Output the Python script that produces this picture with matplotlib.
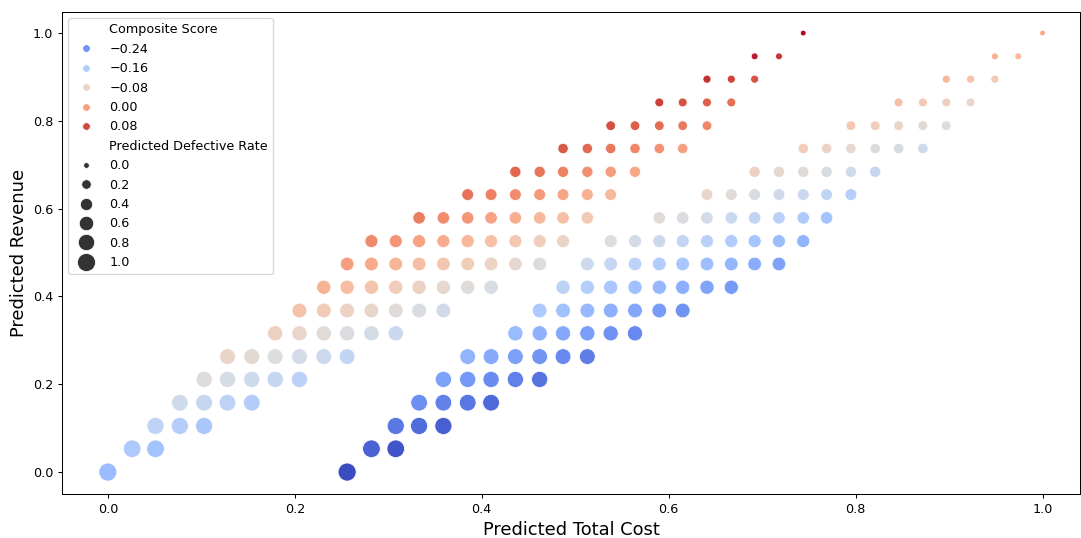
import matplotlib
matplotlib.use("Agg")
import matplotlib.pyplot as plt
import seaborn as sns
import pandas as pd

# one entry per revenue level (rows of the grid, bottom to top)
revenue = [0.000, 0.053, 0.105, 0.158, 0.211, 0.263, 0.316, 0.368, 0.421, 0.474,
           0.526, 0.579, 0.632, 0.684, 0.737, 0.789, 0.842, 0.895, 0.947, 1.000]
defect_rate = [1.00, 0.95, 0.89, 0.84, 0.79, 0.74, 0.68, 0.63, 0.58, 0.53,
               0.47, 0.42, 0.37, 0.32, 0.26, 0.21, 0.16, 0.11, 0.05, 0.00]

# predicted total cost of the points in each row
cost = [
    [0.000, 0.256],
    [0.026, 0.051, 0.282, 0.308],
    [0.051, 0.077, 0.103, 0.308, 0.333, 0.359],
    [0.077, 0.103, 0.128, 0.154, 0.333, 0.359, 0.385, 0.410],
    [0.103, 0.128, 0.154, 0.179, 0.205, 0.359, 0.385, 0.410, 0.436, 0.462],
    [0.128, 0.154, 0.179, 0.205, 0.231, 0.256, 0.385, 0.410, 0.436, 0.462, 0.487, 0.513],
    [0.179, 0.205, 0.231, 0.256, 0.282, 0.308, 0.436, 0.462, 0.487, 0.513, 0.538, 0.564],
    [0.205, 0.231, 0.256, 0.282, 0.308, 0.333, 0.359,
     0.462, 0.487, 0.513, 0.538, 0.564, 0.590, 0.615],
    [0.231, 0.256, 0.282, 0.308, 0.333, 0.359, 0.385, 0.410,
     0.487, 0.513, 0.538, 0.564, 0.590, 0.615, 0.641, 0.667],
    [0.256, 0.282, 0.308, 0.333, 0.359, 0.385, 0.410, 0.436, 0.462,
     0.513, 0.538, 0.564, 0.590, 0.615, 0.641, 0.667, 0.692, 0.718],
    [0.282, 0.308, 0.333, 0.359, 0.385, 0.410, 0.436, 0.462, 0.487,
     0.538, 0.564, 0.590, 0.615, 0.641, 0.667, 0.692, 0.718, 0.744],
    [0.333, 0.359, 0.385, 0.410, 0.436, 0.462, 0.487, 0.513,
     0.590, 0.615, 0.641, 0.667, 0.692, 0.718, 0.744, 0.769],
    [0.385, 0.410, 0.436, 0.462, 0.487, 0.513, 0.538,
     0.641, 0.667, 0.692, 0.718, 0.744, 0.769, 0.795],
    [0.436, 0.462, 0.487, 0.513, 0.538, 0.564, 0.692, 0.718, 0.744, 0.769, 0.795, 0.821],
    [0.487, 0.513, 0.538, 0.564, 0.590, 0.615, 0.744, 0.769, 0.795, 0.821, 0.846, 0.872],
    [0.538, 0.564, 0.590, 0.615, 0.641, 0.795, 0.821, 0.846, 0.872, 0.897],
    [0.590, 0.615, 0.641, 0.667, 0.846, 0.872, 0.897, 0.923],
    [0.641, 0.667, 0.692, 0.897, 0.923, 0.949],
    [0.692, 0.718, 0.949, 0.974],
    [0.744, 1.000],
]

# composite score of the same points
score = [
    [-0.189, -0.314],
    [-0.166, -0.179, -0.291, -0.304],
    [-0.144, -0.156, -0.169, -0.269, -0.281, -0.294],
    [-0.121, -0.134, -0.146, -0.159, -0.246, -0.259, -0.271, -0.284],
    [-0.099, -0.111, -0.124, -0.136, -0.149, -0.224, -0.236, -0.249, -0.261, -0.274],
    [-0.076, -0.089, -0.101, -0.114, -0.126, -0.139, -0.201, -0.214, -0.226, -0.239, -0.251, -0.264],
    [-0.066, -0.078, -0.091, -0.103, -0.116, -0.128, -0.191, -0.203, -0.216, -0.228, -0.241, -0.253],
    [-0.043, -0.056, -0.068, -0.081, -0.093, -0.106, -0.118,
     -0.168, -0.181, -0.193, -0.206, -0.218, -0.231, -0.243],
    [-0.021, -0.033, -0.046, -0.058, -0.071, -0.083, -0.096, -0.108,
     -0.146, -0.158, -0.171, -0.183, -0.196, -0.208, -0.221, -0.233],
    [0.002, -0.011, -0.023, -0.036, -0.048, -0.061, -0.073, -0.086, -0.098,
     -0.123, -0.136, -0.148, -0.161, -0.173, -0.186, -0.198, -0.211, -0.223],
    [0.024, 0.012, -0.001, -0.013, -0.026, -0.038, -0.051, -0.063, -0.076,
     -0.101, -0.113, -0.126, -0.138, -0.151, -0.163, -0.176, -0.188, -0.201],
    [0.035, 0.022, 0.010, -0.003, -0.015, -0.028, -0.040, -0.053,
     -0.090, -0.103, -0.115, -0.128, -0.140, -0.153, -0.165, -0.178],
    [0.045, 0.032, 0.020, 0.007, -0.005, -0.018, -0.030,
     -0.080, -0.093, -0.105, -0.118, -0.130, -0.143, -0.155],
    [0.055, 0.042, 0.030, 0.017, 0.005, -0.008, -0.070, -0.083, -0.095, -0.108, -0.120, -0.133],
    [0.065, 0.052, 0.040, 0.027, 0.015, 0.002, -0.060, -0.073, -0.085, -0.098, -0.110, -0.123],
    [0.075, 0.063, 0.050, 0.038, 0.025, -0.050, -0.063, -0.075, -0.088, -0.100],
    [0.085, 0.073, 0.060, 0.048, -0.040, -0.053, -0.065, -0.078],
    [0.095, 0.083, 0.070, -0.030, -0.043, -0.055],
    [0.105, 0.093, -0.020, -0.032],
    [0.115, -0.010],
]

records = []
for rev, rate, xs, ss in zip(revenue, defect_rate, cost, score):
    for c, s in zip(xs, ss):
        records.append((c, rev, rate, s))
df = pd.DataFrame(records, columns=["Predicted Total Cost", "Predicted Revenue",
                                    "Predicted Defective Rate", "Composite Score"])

fig = plt.figure(figsize=(1081 / 92, 538 / 92), dpi=92)
ax = fig.add_axes([0.0574, 0.0818, 0.9416, 0.8959])
sns.scatterplot(data=df, x="Predicted Total Cost", y="Predicted Revenue",
                hue="Composite Score", size="Predicted Defective Rate",
                palette="coolwarm", sizes=(20, 200), ax=ax)

ax.set_xlim(-0.049, 1.04)
ax.set_ylim(-0.050, 1.048)
ax.set_xlabel("Predicted Total Cost", fontsize=14)
ax.set_ylabel("Predicted Revenue", fontsize=14)
ax.legend(loc="upper left")

fig.savefig("out.png", dpi=92)
